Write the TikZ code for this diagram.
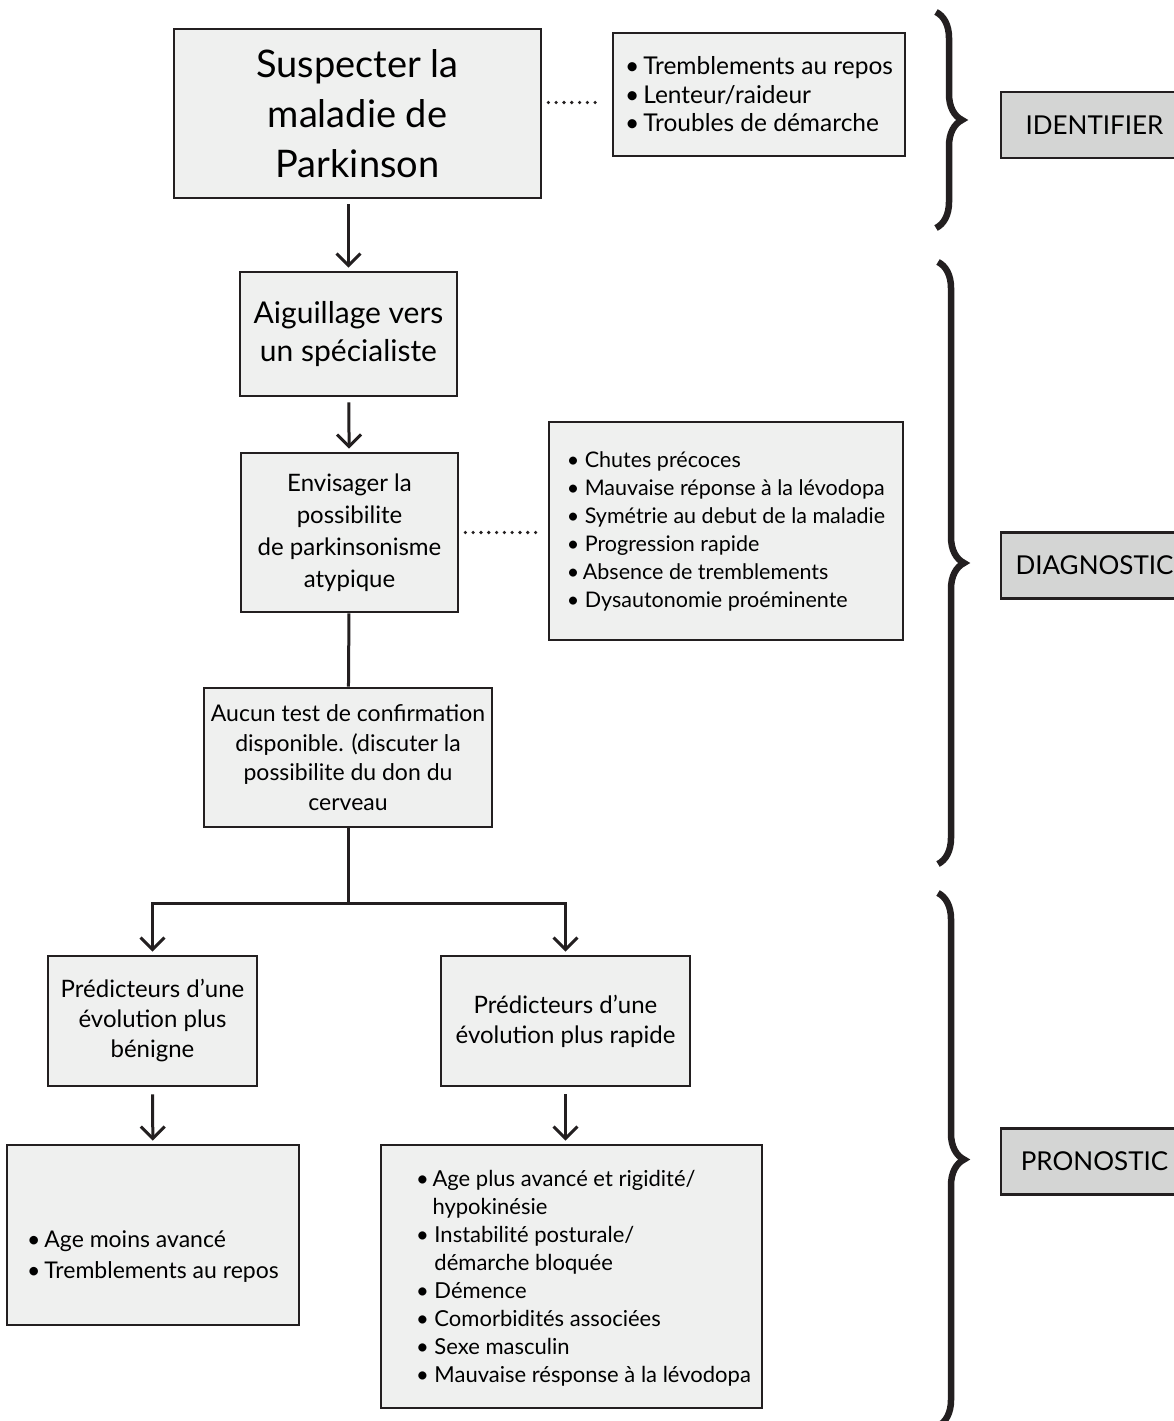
\documentclass[tikz,border=0pt]{standalone}
\usepackage{fontspec}
\setmainfont{Lato}
\usetikzlibrary{arrows.meta,decorations.pathreplacing}
\definecolor{boxfill}{HTML}{EFF0EF}
\definecolor{stagefill}{HTML}{D4D5D4}
\definecolor{ink}{HTML}{231F20}
\begin{document}
\begin{tikzpicture}[x=1pt, y=-1pt,
    box/.style={draw=ink, line width=2.7pt, fill=boxfill, align=center, inner sep=0pt},
    listbox/.style={box, align=left},
    stage/.style={draw=ink, line width=2.2pt, fill=stagefill, minimum width=187pt, minimum height=66pt, font=\fontsize{26pt}{30pt}\selectfont},
    flow/.style={draw=ink, line width=3pt, -{Straight Barb[length=12pt, width=24pt]}, shorten <=5pt, shorten >=3pt},
    link/.style={draw=ink, line width=3pt},
    dots/.style={draw=ink, line width=3.6pt, line cap=round, dash pattern=on 0pt off 7.8pt, shorten <=6pt, shorten >=10pt},
    curly/.style={draw=ink, line width=6.5pt, decorate, decoration={brace, amplitude=26pt}}]
    \path[use as bounding box, fill=white] (0,0) rectangle (1173,1421);

    % Nodes
    \node[box, minimum width=367pt, minimum height=169pt, font=\fontsize{38pt}{50pt}\selectfont] (susp) at (357.5,113.5)
        {Suspecter la\\maladie de\\Parkinson};
    \node[listbox, minimum width=292pt, minimum height=123pt, font=\fontsize{24.5pt}{28.5pt}\selectfont] (symp) at (759,94.5)
        {•\,Tremblements au repos\\•\,Lenteur/raideur\\•\,Troubles de démarche};
    \node[box, minimum width=217pt, minimum height=124pt, font=\fontsize{30pt}{38pt}\selectfont] (aig) at (348.5,334)
        {Aiguillage vers\\un spécialiste};
    \node[box, minimum width=217pt, minimum height=159pt, font=\fontsize{24pt}{32pt}\selectfont] (env) at (349.5,532.5)
        {Envisager la\\possibilite\\de parkinsonisme\\atypique};
    \node[listbox, minimum width=354pt, minimum height=218pt, font=\fontsize{21.5pt}{28pt}\selectfont] (dx) at (726,531)
        {• Chutes précoces\\• Mauvaise réponse à la lévodopa\\• Symétrie au debut de la maladie\\• Progression rapide\\•\,Absence de tremblements\\• Dysautonomie proéminente};
    \node[box, minimum width=288pt, minimum height=139pt, font=\fontsize{23pt}{29.5pt}\selectfont] (aucun) at (348,757.5)
        {Aucun test de confirmation\\disponible. (discuter la\\possibilite du don du\\cerveau};
    \node[box, minimum width=209pt, minimum height=130pt, font=\fontsize{24pt}{30pt}\selectfont] (pred1) at (152.5,1021)
        {Prédicteurs d’une\\évolution plus\\bénigne};
    \node[box, minimum width=249pt, minimum height=130pt, font=\fontsize{24pt}{30pt}\selectfont] (pred2) at (565.5,1021)
        {Prédicteurs d’une\\évolution plus rapide};
    \node[box, minimum width=292pt, minimum height=180pt] (benign) at (153,1235) {};
    \node[align=left, inner sep=0pt, font=\fontsize{23pt}{31pt}\selectfont] (benigntext) at ([yshift=-22pt]benign.center)
        {•\,Age moins avancé\\•\,Tremblements au repos};
    \node[box, minimum width=381pt, minimum height=263pt] (rapid) at (571.5,1276.5) {};
    \node[align=left, inner sep=0pt, font=\fontsize{22pt}{28pt}\selectfont] (rapidtext) at ([xshift=12pt, yshift=-2pt]rapid.center)
        {•\,Age plus avancé et rigidité/\\\hphantom{•\,}hypokinésie\\• Instabilité posturale/\\\hphantom{• }démarche bloquée\\• Démence\\• Comorbidités associées\\• Sexe masculin\\• Mauvaise résponse à la lévodopa};

    % Stages
    \node[stage] (identifier) at (1094.5,125) {IDENTIFIER};
    \node[stage] (diagnostic) at (1094.5,565.5) {DIAGNOSTIC};
    \node[stage] (pronostic) at (1094.5,1161.5) {PRONOSTIC};
    \draw[curly] (936,12) -- (936,228);
    \draw[curly] (938,262) -- (938,864);
    \draw[curly] (938,893) -- (938,1426);

    % Edges
    \path ([yshift=-8pt]symp.west) coordinate (symptip);
    \draw[dots] (susp.east |- symptip) -- (symptip);
    \draw[dots] (env.east) -- (env.east -| dx.west);
    \draw[flow] (susp.south -| aig.north) -- (aig.north);
    \draw[flow] (aig) -- (env);
    \draw[link] (env) -- (aucun);
    \coordinate (fork) at (348,903);
    \draw[link] (aucun) -- (fork);
    \draw[flow, shorten <=0pt] (fork) -| (pred1.north);
    \draw[flow, shorten <=0pt] (fork) -| (pred2.north);
    \draw[flow, shorten <=7pt] (pred1) -- (benign);
    \draw[flow, shorten <=7pt] (pred2.south) -- (pred2.south |- rapid.north);
\end{tikzpicture}
\end{document}
